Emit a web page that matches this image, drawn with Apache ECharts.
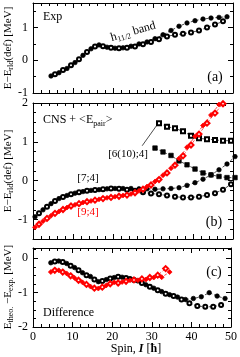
<!DOCTYPE html>
<html><head><meta charset="utf-8">
<script src="https://cdn.jsdelivr.net/npm/echarts@6/dist/echarts.min.js"></script>
<style>html,body{margin:0;padding:0;background:#fff}#c{width:240px;height:357px}</style>
</head><body><div id="c"></div>
<script>
// ---------- data ----------
const xMajor = [0,10,20,30,40,50];
const xMinor = [2,4,6,8,12,14,16,18,22,24,26,28,32,34,36,38,42,44,46,48];
const yMajorA = [-1,0,1];
const yMinorA = [-0.5,0.5,1.5];
const yMajorB = [-1,0,1,2];
const yMinorB = [-1.25,-0.75,-0.5,-0.25,0.25,0.5,0.75,1.25,1.5,1.75];
const yMajorC = [-2,-1,0];
const yMinorC = [-1.75,-1.5,-1.25,-0.75,-0.5,-0.25,0.25];

// (a) experiment
const expFilledSpin = [4.5,6.5,8.5,10.5,12.5,14.5,16.5,18.5,20.5,22.5,24.5,26.5,28.5,30.5,32.5,34.5,36.5,38.5,40.5,42.5,44.5,46.5,48.5];
const expFilledE = [-0.48,-0.38,-0.25,-0.07,0.15,0.35,0.47,0.40,0.37,0.38,0.43,0.50,0.56,0.66,0.78,0.91,1.04,1.14,1.21,1.26,1.29,1.31,1.33];
const expOpenSpin = [5.5,7.5,9.5,11.5,13.5,15.5,17.5,19.5,21.5,23.5,25.5,27.5,29.5,31.5,33.5,35.5,37.5,39.5,41.5,43.5,45.5,47.5];
const expOpenE = [-0.43,-0.30,-0.15,0.03,0.25,0.42,0.43,0.38,0.37,0.38,0.42,0.49,0.56,0.64,0.73,0.78,0.81,0.85,0.91,1.00,1.09,1.19];

// (b) CNS + <Epair>
const c74FilledSpin = [0.5,2.5,4.5,6.5,8.5,10.5,12.5,14.5,16.5,18.5,20.5,22.5,24.5,26.5,28.5,30.5,32.5,34.5,36.5,38.5,40.5,42.5,44.5,46.5,48.5,50.5];
const c74FilledE = [-0.93,-0.75,-0.59,-0.46,-0.38,-0.32,-0.28,-0.25,-0.23,-0.21,-0.20,-0.20,-0.20,-0.21,-0.21,-0.22,-0.21,-0.20,-0.18,-0.12,-0.05,0.04,0.15,0.28,0.43,0.62];
const c74OpenSpin = [1.5,3.5,5.5,7.5,9.5,11.5,13.5,15.5,17.5,19.5,21.5,23.5,25.5,27.5,29.5,31.5,33.5,35.5,37.5,39.5,41.5,43.5,45.5,47.5,49.5];
const c74OpenE = [-0.84,-0.67,-0.52,-0.42,-0.35,-0.30,-0.26,-0.24,-0.22,-0.20,-0.21,-0.23,-0.26,-0.30,-0.33,-0.35,-0.38,-0.41,-0.43,-0.43,-0.41,-0.37,-0.32,-0.23,-0.09];
const c94FilledSpin = [0.5,2.5,4.5,6.5,8.5,10.5,12.5,14.5,16.5,18.5,20.5,22.5,24.5,26.5,28.5,30.5,32.5,34.5,36.5,38.5,40.5,42.5,44.5,46.5];
const c94FilledE = [-1.20,-1.04,-0.90,-0.79,-0.69,-0.62,-0.56,-0.52,-0.48,-0.44,-0.41,-0.38,-0.34,-0.26,-0.15,-0.02,0.14,0.32,0.57,0.86,1.14,1.42,1.69,1.96];
const c94OpenSpin = [1.5,3.5,5.5,7.5,9.5,11.5,13.5,15.5,17.5,19.5,21.5,23.5,25.5,27.5,29.5,31.5,33.5,35.5,37.5,39.5,41.5,43.5,45.5,47.5];
const c94OpenE = [-1.12,-0.97,-0.84,-0.74,-0.65,-0.59,-0.54,-0.50,-0.46,-0.43,-0.40,-0.37,-0.31,-0.22,-0.11,0.03,0.20,0.40,0.64,0.92,1.20,1.48,1.74,1.98];
const c6104FilledSpin = [30.5,32.5,34.5,36.5,38.5,40.5,42.5,44.5,46.5,48.5,50.5];
const c6104FilledE = [0.84,0.74,0.65,0.51,0.41,0.30,0.20,0.15,0.11,0.08,0.08];
const c6104OpenSpin = [31.5,33.5,35.5,37.5,39.5,41.5,43.5,45.5,47.5,49.5];
const c6104OpenE = [1.48,1.39,1.35,1.27,1.16,1.09,1.07,1.05,1.03,1.03];
const leaderLine = [[27.3,0.9],[30.9,1.42]];

// (c) difference
const d74FilledSpin = [4.5,6.5,8.5,10.5,12.5,14.5,16.5,18.5,20.5,22.5,24.5,26.5,28.5,30.5,32.5,34.5,36.5,38.5,40.5,42.5,44.5,46.5,48.5];
const d74FilledE = [-0.13,-0.08,-0.15,-0.27,-0.42,-0.53,-0.68,-0.62,-0.56,-0.55,-0.59,-0.66,-0.77,-0.87,-0.97,-1.06,-1.13,-1.20,-1.17,-1.12,-1.00,-1.10,-1.17];
const d74OpenSpin = [5.5,7.5,9.5,11.5,13.5,15.5,17.5,19.5,21.5,23.5,25.5,27.5,29.5,31.5,33.5,35.5,37.5,39.5,41.5,43.5,45.5,47.5];
const d74OpenE = [-0.09,-0.11,-0.22,-0.35,-0.49,-0.62,-0.66,-0.59,-0.54,-0.57,-0.63,-0.72,-0.83,-0.93,-1.03,-1.10,-1.20,-1.31,-1.39,-1.41,-1.41,-1.36];
const d94FilledSpin = [4.5,6.5,8.5,10.5,12.5,14.5,16.5,18.5,20.5,22.5,24.5,26.5,28.5,30.5,32.5,34.5];
const d94FilledE = [-0.40,-0.35,-0.44,-0.57,-0.70,-0.82,-0.88,-0.79,-0.70,-0.69,-0.64,-0.64,-0.62,-0.56,-0.55,-0.40];
const d94OpenSpin = [5.5,7.5,9.5,11.5,13.5,15.5,17.5,19.5,21.5,23.5,25.5,27.5,29.5,31.5,33.5];
const d94OpenE = [-0.35,-0.40,-0.51,-0.64,-0.76,-0.87,-0.84,-0.74,-0.72,-0.67,-0.63,-0.60,-0.56,-0.49,-0.30];

// ---------- chart ----------
const FONT = 'Liberation Serif';
const RED = '#ff0000';
const ranges = [[-1,1.75],[-1.5,2],[-2,0.3]];
const yMaj = [yMajorA,yMajorB,yMajorC];
const yMin = [yMinorA,yMinorB,yMinorC];
const grids = [
  {left:33,right:7,top:3,height:90},
  {left:33,right:7,top:103,height:136},
  {left:33,right:7,top:248,height:79}
];
const xAxes = [], yAxes = [];
function ax(g, pos, min, max, ticks, len, line, labels) {
  return {
    type:'value', gridIndex:g, position:pos, min:min, max:max,
    splitLine:{show:false},
    axisLine:{show:line, onZero:false, lineStyle:{color:'#000',width:1}},
    axisTick:{show:true, inside:true, length:len, customValues:ticks, lineStyle:{color:'#000',width:1}},
    axisLabel:{show:!!labels, customValues:labels||undefined, color:'#000', fontFamily:FONT, fontSize:12, margin:pos==='bottom'?4:5}
  };
}
for (let g=0; g<3; g++) {
  xAxes.push(ax(g,'bottom',0,50,xMajor,5,true,g===2?xMajor:null));
  xAxes.push(ax(g,'bottom',0,50,xMinor,3,false,null));
  xAxes.push(ax(g,'top',0,50,xMajor,5,true,null));
  xAxes.push(ax(g,'top',0,50,xMinor,3,false,null));
  const r = ranges[g];
  yAxes.push(ax(g,'left',r[0],r[1],yMaj[g],5,true,yMaj[g]));
  yAxes.push(ax(g,'left',r[0],r[1],yMin[g],3,false,null));
  yAxes.push(ax(g,'right',r[0],r[1],yMaj[g],5,true,null));
  yAxes.push(ax(g,'right',r[0],r[1],yMin[g],3,false,null));
}
function zip(xs, ys){ return xs.map((x,i)=>[x,ys[i]]); }
function ser(g, xs, ys, symbol, color, size, extra) {
  return Object.assign({
    type:'line', xAxisIndex:4*g, yAxisIndex:4*g, data:zip(xs,ys),
    symbol:symbol, symbolSize:size, showSymbol:true, clip:false, silent:true,
    animation:false,
    lineStyle:{color:color, width:0.7, type:[3,2]},
    itemStyle:{color:color, borderColor:color, borderWidth:0.7},
    emphasis:{disabled:true}
  }, extra||{});
}
const series = [
  ser(0, expOpenSpin, expOpenE, 'emptyCircle', '#000', 4),
  ser(0, expFilledSpin, expFilledE, 'circle', '#000', 4.5),
  ser(1, c6104OpenSpin, c6104OpenE, 'emptyRect', '#000', 4, {
    markLine:{silent:true, symbol:['none','none'], animation:false, label:{show:false},
      lineStyle:{color:'#000', width:0.7, type:'solid'},
      data:[[{coord:leaderLine[0]},{coord:leaderLine[1]}]]}
  }),
  ser(1, c6104FilledSpin, c6104FilledE, 'rect', '#000', 4.5),
  ser(1, c74OpenSpin, c74OpenE, 'emptyCircle', '#000', 4),
  ser(1, c74FilledSpin, c74FilledE, 'circle', '#000', 4.5),
  ser(1, c94OpenSpin, c94OpenE, 'emptyDiamond', RED, 5),
  ser(1, c94FilledSpin, c94FilledE, 'diamond', RED, 5),
  ser(2, d74OpenSpin, d74OpenE, 'emptyCircle', '#000', 4),
  ser(2, d74FilledSpin, d74FilledE, 'circle', '#000', 4.5),
  ser(2, d94OpenSpin, d94OpenE, 'emptyDiamond', RED, 5),
  ser(2, d94FilledSpin, d94FilledE, 'diamond', RED, 5)
];
function txt(x, y, text, opts) {
  opts = opts || {};
  return {
    type:'text', x:x, y:y, rotation:opts.rot||0, silent:true, z:100,
    style:{
      text:text, fill:opts.color||'#000', font:(opts.size||12)+'px "'+FONT+'"',
      align:opts.align||'left', verticalAlign:'middle',
      rich:{
        a:{fontFamily:FONT, fontSize:opts.size||12, lineHeight:(opts.size||12)+3, verticalAlign:'middle', fill:opts.color||'#000'},
        s:{fontFamily:FONT, fontSize:(opts.sub||8), lineHeight:(opts.sub||8), verticalAlign:'bottom', fill:opts.color||'#000'},
        i:{fontFamily:FONT, fontSize:opts.size||12, lineHeight:(opts.size||12)+3, fontStyle:'italic', fontWeight:'bold', fill:'#000'},
        b:{fontFamily:FONT, fontSize:opts.size||12, lineHeight:(opts.size||12)+3, fontWeight:'bold', fill:'#000'}
      }
    }
  };
}
const graphics = [
  txt(43, 17, 'Exp'),
  txt(111, 38, '{a|h}{s|11/2}{a| band}', {rot:0.28}),
  txt(215, 77, '(a)', {size:14, align:'center'}),
  txt(43, 120, '{a|CNS + <E}{s|pair}{a|>}'),
  txt(88, 178, '[7;4]', {size:11, align:'center'}),
  txt(88, 212, '[9;4]', {size:11, align:'center', color:RED}),
  txt(128, 154, '[6(10);4]', {size:11, align:'center'}),
  txt(214, 222, '(b)', {size:14, align:'center'}),
  txt(214, 272, '(c)', {size:14, align:'center'}),
  txt(43, 313, 'Difference'),
  txt(8, 48, '{a|E\u2212E}{s|rld}{a|(def) [MeV]}', {size:11, align:'center', rot:Math.PI/2}),
  txt(8, 171, '{a|E\u2212E}{s|rld}{a|(def) [MeV]}', {size:11, align:'center', rot:Math.PI/2}),
  txt(8, 287, '{a|E}{s|theo.}{a| \u2212E}{s|exp.}{a| [MeV]}', {size:11, align:'center', rot:Math.PI/2}),
  txt(136, 349, '{a|Spin, }{i|I}{a| [}{b|\u0127}{a|]}', {align:'center'})
];
const chart = echarts.init(document.getElementById('c'), null, {renderer:'canvas'});
chart.setOption({
  animation:false,
  backgroundColor:'#fff',
  grid:grids,
  xAxis:xAxes,
  yAxis:yAxes,
  series:series,
  graphic:{elements:graphics}
});
</script></body></html>
